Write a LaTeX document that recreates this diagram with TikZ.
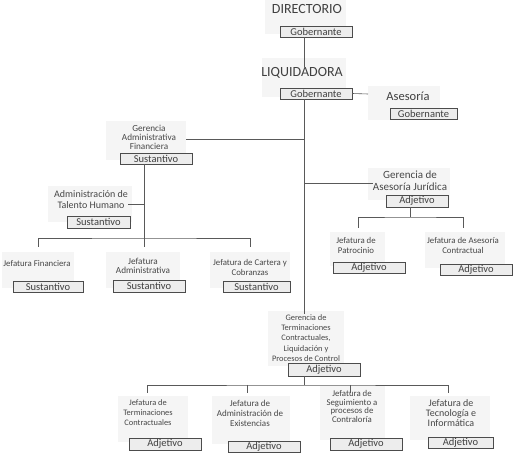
\documentclass[tikz,border=0pt]{standalone}
\usepackage{fontspec}
\setmainfont{Carlito}
\usetikzlibrary{positioning}

\tikzset{
  linea/.style={draw=black!65, line width=0.6pt},
  caja/.style={draw=black!70, fill=gray!14, text=black!75, minimum width=72pt,
    minimum height=11.5pt, inner sep=0pt, font=\fontsize{10.5}{11}\selectfont},
  titulo/.style={text=black!75, inner sep=0pt, font=\fontsize{14}{16}\selectfont},
  unidad/.style={text=black!72, inner sep=0pt, align=center, font=\fontsize{8.8}{9.3}\selectfont},
  fondo/.style={fill=gray!8, draw=none},
}

\begin{document}
\begin{tikzpicture}[x=1pt, y=-1pt]
    \useasboundingbox (0,0) rectangle (515,454);
    % Fondos grises de cada unidad
    \fill[fondo] (265,0) rectangle (346,34);
    \fill[fondo] (262,58) rectangle (346,97);
    \fill[fondo] (368,86) rectangle (440,120);
    \fill[fondo] (106,121) rectangle (186,160);
    \fill[fondo] (48,186) rectangle (132,222);
    \fill[fondo] (2,252) rectangle (74,288);
    \fill[fondo] (106,252) rectangle (180,288);
    \fill[fondo] (210,252) rectangle (290,288);
    \fill[fondo] (368,168) rectangle (450,200);
    \fill[fondo] (330,232) rectangle (385,266);
    \fill[fondo] (425,232) rectangle (505,268);
    \fill[fondo] (268,311) rectangle (344,366);
    \fill[fondo] (118,396) rectangle (188,442);
    \fill[fondo] (212,396) rectangle (290,444);
    \fill[fondo] (320,386) rectangle (385,440);
    \fill[fondo] (410,396) rectangle (490,440);

    % Nivel superior
    \node[titulo] (dir) at (307,9) {DIRECTORIO};
    \node[caja] (dirB) at (316,31.5) {Gobernante};
    \node[titulo] (liq) at (302,73) {LIQUIDADORA};
    \node[caja] (liqB) at (316,93.5) {Gobernante};
    \node[titulo, font=\fontsize{12.5}{14}\selectfont] (ase) at (408,96) {Asesoría};
    \node[caja, minimum width=67pt] (aseB) at (423.5,113.5) {Gobernante};

    % Gerencia Administrativa Financiera
    \node[unidad, font=\fontsize{9.2}{8.9}\selectfont] (gaf) at (149,137) {Gerencia\\Administrativa\\Financiera};
    \node[caja] (gafB) at (156,158.5) {Sustantivo};
    \node[unidad, font=\fontsize{10}{11}\selectfont] (ath) at (91,200) {Administración de\\Talento Humano};
    \node[caja, minimum width=63pt] (athB) at (98.5,222) {Sustantivo};
    \node[unidad] (jfin) at (37,264) {Jefatura Financiera};
    \node[caja, minimum width=70pt] (jfinB) at (48,286.5) {Sustantivo};
    \node[unidad, font=\fontsize{9.2}{9.3}\selectfont] (jadm) at (143,266) {Jefatura\\Administrativa};
    \node[caja] (jadmB) at (149,286) {Sustantivo};
    \node[unidad] (jcar) at (250,267.5) {Jefatura de Cartera y\\Cobranzas};
    \node[caja, minimum width=67pt] (jcarB) at (256.5,286.5) {Sustantivo};

    % Gerencia de Asesoria Juridica
    \node[unidad, font=\fontsize{11}{12}\selectfont] (gaj) at (410,181) {Gerencia de\\Asesoría Jurídica};
    \node[caja, minimum width=62pt, minimum height=12pt] (gajB) at (417,201) {Adjetivo};
    \node[unidad] (jpat) at (356,245.5) {Jefatura de\\Patrocinio};
    \node[caja] (jpatB) at (369,267.5) {Adjetivo};
    \node[unidad] (jasc) at (463,245.5) {Jefatura de Asesoría\\Contractual};
    \node[caja] (jascB) at (476,269.5) {Adjetivo};

    % Gerencia de Terminaciones Contractuales
    \node[unidad, font=\fontsize{8.4}{10.3}\selectfont] (gtc) at (306,338) {Gerencia de\\Terminaciones\\Contractuales,\\Liquidación y\\Procesos de Control};
    \node[caja, minimum height=13pt] (gtcB) at (324,369.5) {Adjetivo};
    \node[unidad, font=\fontsize{8.4}{10}\selectfont] (jter) at (148,413) {Jefatura de\\Terminaciones\\Contractuales};
    \node[caja] (jterB) at (165,444) {Adjetivo};
    \node[unidad, font=\fontsize{9}{10}\selectfont] (jexi) at (250,413) {Jefatura de\\Administración de\\Existencias};
    \node[caja] (jexiB) at (264,446.5) {Adjetivo};
    \node[unidad, font=\fontsize{8.8}{8.8}\selectfont] (jseg) at (352,406.5) {Jefatura de\\Seguimiento a\\procesos de\\Contraloría};
    \node[caja] (jsegB) at (366,444) {Adjetivo};
    \node[unidad, font=\fontsize{10}{10}\selectfont] (jtec) at (451,413) {Jefatura de\\Tecnología e\\Informática};
    \node[caja, minimum width=65pt] (jtecB) at (460.5,442.5) {Adjetivo};

    % Puntos de las barras de conexion
    \coordinate (tronco) at (304,385);
    \coordinate (barraA) at (144,238);
    \coordinate (barraJ) at (410,217);

    % Conectores
    \draw[linea] (dirB.south -| 304,0) -- (liq.north -| 304,0);
    \draw[linea] (liqB.south -| 304,0) -- (gtc.north -| 304,0);
    \draw[linea] (liqB.east) -- (368,94);
    \draw[linea] (304,139) -- (186,139);
    \draw[linea] (304,183) -- (gaj.west |- 304,183);
    \draw[linea] (gafB.south -| barraA) -- (barraA);
    \draw[linea] (ath.east |- 144,204) -- (144,204);
    \draw[linea] (38,247) |- (barraA) -| (250,247);
    \draw[linea] (barraA) -- (144,247);
    \draw[linea] (gajB.south -| barraJ) -- (barraJ);
    \draw[linea] (358,228) |- (barraJ) -| (463,228);
    \draw[linea] (gtcB.south -| tronco) -- (tronco);
    \draw[linea] (147,393) |- (tronco) -| (448,393);
    \draw[linea] (247,385) -- (247,393);
    \draw[linea] (350,385) -- (350,393);
\end{tikzpicture}
\end{document}
